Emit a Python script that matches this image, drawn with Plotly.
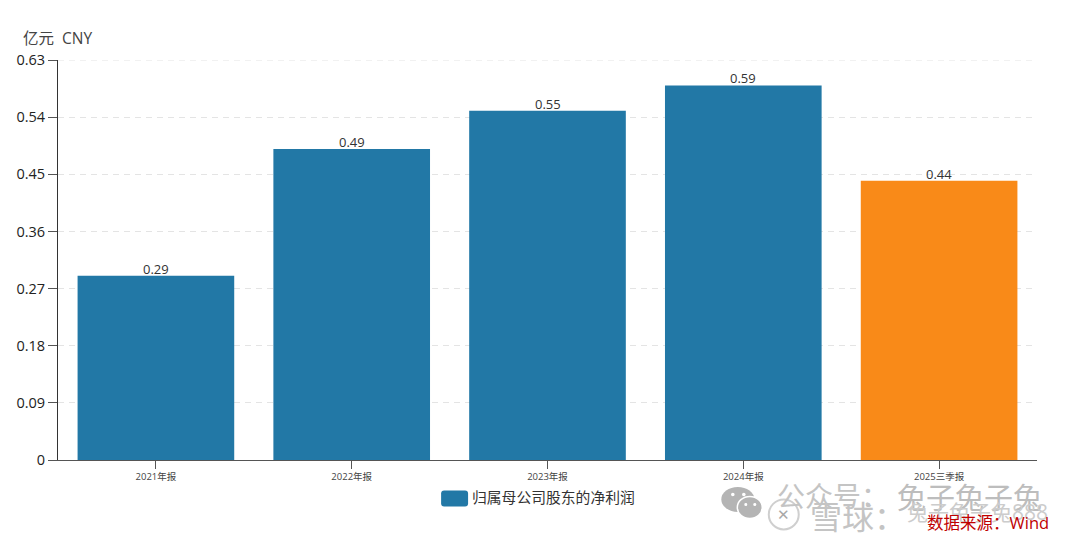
import plotly.graph_objects as go

# values
periods = ['2021年报', '2022年报', '2023年报', '2024年报', '2025三季报']
net_profit = [0.29, 0.49, 0.55, 0.59, 0.44]
bar_colors = ['#2278a6', '#2278a6', '#2278a6', '#2278a6', '#f98a18']
y_ticks = [0, 0.09, 0.18, 0.27, 0.36, 0.45, 0.54, 0.63]
y_labels = ['0', '0.09', '0.18', '0.27', '0.36', '0.45', '0.54', '0.63']
series_name = '归属母公司股东的净利润'

FONT = 'Open Sans, Noto Sans CJK SC, sans-serif'

# the page has an 8px body margin, so the figure is 16px smaller than the window
PAGE = 8
L, T, W, H = 57.5 - PAGE, 60 - PAGE, 980, 400.5
FIG_W, FIG_H = 1064, 532


def px(x):
    return (x - 57.5) / W


def py(y):
    return (460.5 - y) / H


def note(text, x, y, size, color, anchor='left'):
    return dict(text=text, xref='paper', yref='paper', x=px(x), y=py(y),
                xanchor=anchor, yanchor='middle', showarrow=False,
                font=dict(size=size, color=color))


def round_rect(x0, y0, x1, y1, r, color):
    a, b, c, d = px(x0), px(x1), py(y0), py(y1)
    rx, ry = r / W, r / H
    path = (f'M {a+rx} {c} L {b-rx} {c} Q {b} {c} {b} {c-ry} L {b} {d+ry} Q {b} {d} {b-rx} {d} '
            f'L {a+rx} {d} Q {a} {d} {a} {d+ry} L {a} {c-ry} Q {a} {c} {a+rx} {c} Z')
    return dict(type='path', path=path, xref='paper', yref='paper',
                fillcolor=color, line_width=0, layer='above')


def oval(x, y, rx, ry, color, edge=None, edge_w=0):
    return dict(type='circle', xref='paper', yref='paper', x0=px(x - rx), x1=px(x + rx),
                y0=py(y + ry), y1=py(y - ry), fillcolor=color,
                line=dict(color=edge or color, width=edge_w), layer='above')


fig = go.Figure()
fig.add_trace(go.Bar(
    x=periods, y=net_profit,
    name=series_name,
    marker=dict(color=bar_colors, line_width=0),
    showlegend=False,
))

value_labels = [
    dict(x=p, y=v, text=f'{v:.2f}', xref='x', yref='y', xanchor='center', yanchor='bottom',
         yshift=-4, showarrow=False, font=dict(size=13, color='#333333'))
    for p, v in zip(periods, net_profit)
]

fig.update_layout(
    width=FIG_W, height=FIG_H,
    margin=dict(l=L, r=FIG_W - L - W, t=T, b=FIG_H - T - H, autoexpand=False),
    paper_bgcolor='white', plot_bgcolor='white',
    font=dict(family=FONT, color='#333333'),
    bargap=0.2,
    xaxis=dict(type='category', range=[-0.5, 4.5], showgrid=False,
               showline=True, linecolor='#555555', linewidth=1,
               ticks='outside', ticklen=8, tickcolor='#555555',
               tickfont=dict(size=9.5, color='#444444')),
    yaxis=dict(range=[0, 0.63], tickvals=y_ticks, ticktext=y_labels,
               showline=True, linecolor='#333333', linewidth=1,
               ticks='outside', ticklen=9, tickcolor='#555555',
               tickfont=dict(size=14.5, color='#222222'),
               showgrid=True, gridcolor='#e4e4e4', griddash='6px,5px', gridwidth=1,
               zeroline=False),
    shapes=[
        # plotly drops the gridline at the end of the range
        dict(type='line', xref='paper', yref='y', x0=0, x1=1, y0=y_ticks[-1], y1=y_ticks[-1],
             line=dict(color='#e4e4e4', width=1, dash='6px,5px'), layer='below'),
        round_rect(441, 491, 468, 507, 3, bar_colors[0]),
        # watermark icons
        oval(738, 500, 16.5, 12.5, '#b4b4b4'),
        oval(733, 495, 1.8, 1.8, 'white'),
        oval(744, 495, 1.8, 1.8, 'white'),
        oval(750, 508, 12.5, 11, '#b4b4b4', 'white', 1.5),
        oval(746, 505, 1.5, 1.5, 'white'),
        oval(755, 505, 1.5, 1.5, 'white'),
        oval(784, 515, 15, 15, 'white', '#cfcfcf', 2),
    ],
    annotations=value_labels + [
        note('亿元  CNY', 20, 38, 15.5, '#444444'),
        note(series_name, 470, 498, 14.8, '#333333'),
        note('✕', 784, 515, 15, '#a8a8a8', anchor='center'),
        note('公众号：', 775, 497, 28, '#c4c4c4'),
        note('兔子兔子兔', 895, 498, 29, '#bdbdbd'),
        note('雪球：', 808, 517, 32, '#c4c4c4'),
        note('兔子兔子兔888', 905, 513, 21, '#cccccc'),
        note('数据来源：Wind', 1052, 523, 16.5, '#c00000', anchor='right'),
    ],
)

fig.write_html("out.html")
